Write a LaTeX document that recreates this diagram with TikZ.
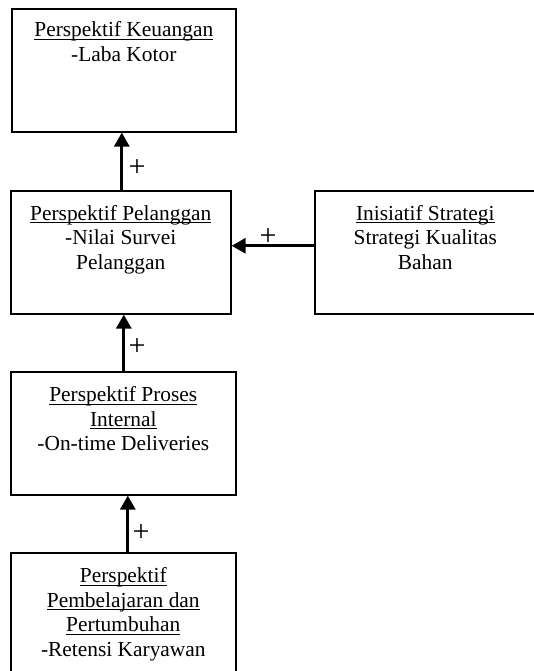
\documentclass[tikz,border=0pt]{standalone}
\usepackage{fontspec}
\setmainfont{Liberation Serif}
\usetikzlibrary{arrows.meta,calc}
\newcommand\ulx[1]{\setbox0\hbox{#1}\rlap{\rule[-3.2pt]{\wd0}{1.1pt}}\box0}
\begin{document}
\begin{tikzpicture}[x=1pt,y=-1pt,
  box/.style={draw,line width=1.6pt,rectangle,inner sep=0pt,anchor=north west},
  txt/.style={anchor=north,inner sep=0pt,align=center,font=\fontsize{21.4}{24.5}\selectfont},
  arr/.style={line width=3pt,-{Triangle[length=14pt,width=15pt]}},
  plus/.style={inner sep=0pt,font=\fontsize{30}{30}\selectfont}]
\useasboundingbox (0,0) rectangle (534,671);
\clip (0,0) rectangle (534,671);
\node[box,minimum width=224pt,minimum height=123pt] (b1) at (11,8) {};
\node[box,minimum width=220pt,minimum height=123pt] (b2) at (10,190) {};
\node[box,minimum width=221pt,minimum height=123pt] (b3) at (314,190) {};
\node[box,minimum width=225pt,minimum height=123pt] (b4) at (10,371) {};
\node[box,minimum width=225pt,minimum height=150pt] (b5) at (10,552) {};
\node[txt] (t1) at ([yshift=-13.5pt]b1.north) {\ulx{Perspektif Keuangan}\\-Laba Kotor};
\node[txt] (t2) at ([yshift=-15pt]b2.north) {\ulx{Perspektif Pelanggan}\\-Nilai Survei\\Pelanggan};
\node[txt] (t3) at ([yshift=-15pt]b3.north) {\ulx{Inisiatif Strategi}\\Strategi Kualitas\\Bahan};
\node[txt] (t4) at ([yshift=-15.5pt]b4.north) {\ulx{Perspektif Proses}\\\ulx{Internal}\\-On-time Deliveries};
\node[txt] (t5) at ([yshift=-15.5pt]b5.north) {\ulx{Perspektif}\\\ulx{Pembelajaran dan}\\\ulx{Pertumbuhan}\\-Retensi Karyawan};
\draw[arr] ([xshift=1pt]b2.north) -- ([xshift=1pt]b2.north |- b1.south);
\draw[arr] ([xshift=0.5pt]b4.north) -- ([xshift=0.5pt]b4.north |- b2.south);
\draw[arr] ([xshift=4.5pt]b5.north) -- ([xshift=4.5pt]b5.north |- b4.south);
\draw[arr] ([yshift=6.5pt]b3.west) -- ([yshift=6.5pt]b3.west -| b2.east);
\node[plus] (p1) at (137,168) {+};
\node[plus] (p2) at (268,237) {+};
\node[plus] (p3) at (137,347) {+};
\node[plus] (p4) at (141,533) {+};
\end{tikzpicture}
\end{document}
